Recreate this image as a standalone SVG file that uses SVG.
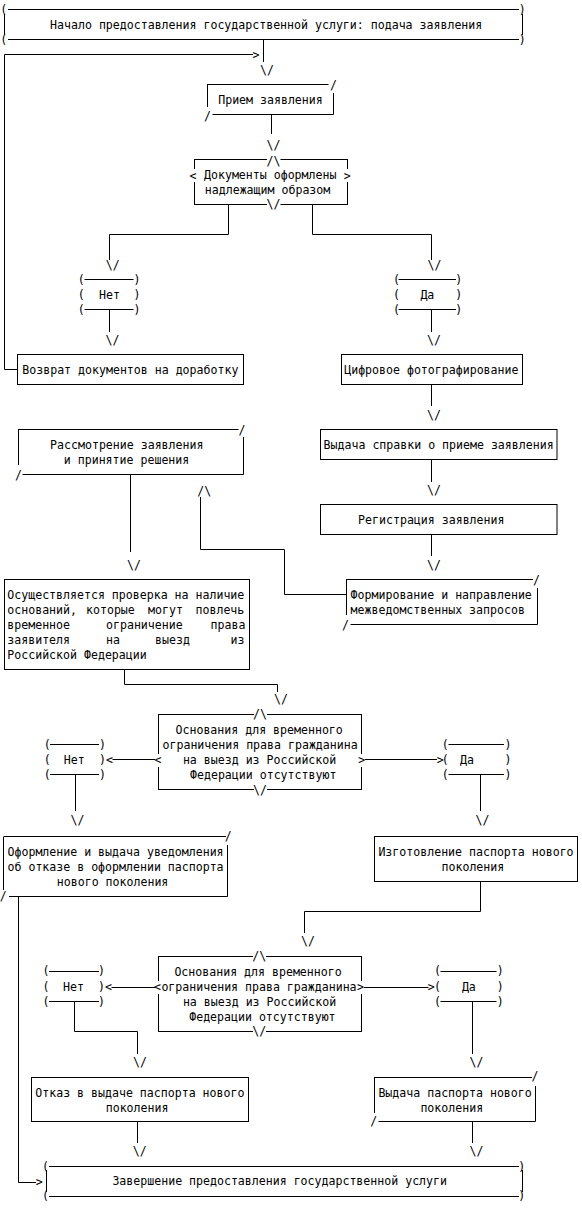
<svg xmlns="http://www.w3.org/2000/svg" width="582" height="1209" viewBox="0 0 582 1209">
<style>
text{font-family:"DejaVu Sans Mono","Liberation Mono",monospace;font-size:11.58px;fill:#000}
.m{text-anchor:middle}
.l{fill:none;stroke:#000;stroke-width:1}
</style>
<rect width="582" height="1209" fill="#fff"/>

<g id="n_start">
<path class="l" d="M8,9.5H519M8,39.5H519M4.5,14V35M522.5,14V35"/>
<text class="m" x="3.7" y="13.6">(</text><text class="m" x="522.2" y="13.6">)</text>
<text class="m" x="3.7" y="43.6">(</text><text class="m" x="522.2" y="43.6">)</text>
<text x="50.1" y="29">Начало предоставления государственной услуги: подача заявления</text>
</g>

<g id="n_priem">
<path class="l" d="M207,84.5H328.5M207.5,84.5V107M333.5,93V114.5M212.5,114.5H333.5"/>
<text class="m" x="333.6" y="89.2">/</text>
<text class="m" x="207.4" y="120">/</text>
<text x="218.2" y="104">Прием заявления</text>
</g>

<g id="n_dec1">
<path class="l" d="M194,159.5H267M280.5,159.5H348M194.5,159.5V169M194.5,182V204.5M347.5,159.5V169M347.5,182V204.5M194,204.5H267M280.5,204.5H348"/>
<text class="m" x="273.6" y="164.5">/\</text>
<text class="m" x="273.6" y="208.2">\/</text>
<text class="m" x="193.1" y="179.7">&lt;</text>
<text class="m" x="347.3" y="179.7">&gt;</text>
<text x="204" y="179.3">Документы оформлены</text>
<text x="204.8" y="194.3">надлежащим образом</text>
</g>

<g id="n_net1">
<path class="l" d="M84.5,279.5H133.5M84.5,309.5H133.5"/>
<text class="m" x="81.2" y="283.6">(</text><text class="m" x="81.2" y="298.6">(</text><text class="m" x="81.2" y="313.6">(</text>
<text class="m" x="136.9" y="283.6">)</text><text class="m" x="136.9" y="298.6">)</text><text class="m" x="136.9" y="313.6">)</text>
<text x="99.1" y="299">Нет</text>
</g>

<g id="n_da1">
<path class="l" d="M398.5,279.5H456M398.5,309.5H456"/>
<text class="m" x="396.6" y="283.6">(</text><text class="m" x="396.6" y="298.6">(</text><text class="m" x="396.6" y="313.6">(</text>
<text class="m" x="458.8" y="283.6">)</text><text class="m" x="458.8" y="298.6">)</text><text class="m" x="458.8" y="313.6">)</text>
<text x="420.4" y="299">Да</text>
</g>

<g id="n_vozvrat">
<rect class="l" x="17.5" y="354.5" width="226" height="30"/>
<text x="22.3" y="373.5">Возврат документов на доработку</text>
</g>

<g id="n_foto">
<rect class="l" x="341.5" y="354.5" width="181" height="30"/>
<text x="344.2" y="373.5">Цифровое фотографирование</text>
</g>

<g id="n_spravka">
<rect class="l" x="320.5" y="429.5" width="236.5" height="30"/>
<text x="323.6" y="448.5">Выдача справки о приеме заявления</text>
</g>

<g id="n_reg">
<rect class="l" x="320.5" y="504.5" width="236.5" height="30"/>
<text x="358.1" y="523.5">Регистрация заявления</text>
</g>

<g id="n_rassm">
<path class="l" d="M18,429.5H238.5M18.5,429.5V465M243.5,437V474.5M22.5,474.5H243.5"/>
<text class="m" x="242.1" y="433.7">/</text>
<text class="m" x="18.4" y="478.7">/</text>
<text x="50.1" y="448.5">Рассмотрение заявления</text>
<text x="63.8" y="463.5">и принятие решения</text>
</g>

<g id="n_form">
<path class="l" d="M346,579.5H533M346.5,579.5V615M537.5,588V624.5M350.5,624.5H537.5"/>
<text class="m" x="536.5" y="583.7">/</text>
<text class="m" x="345.6" y="628.7">/</text>
<text x="350.6" y="599">Формирование и направление</text>
<text x="350.6" y="614">межведомственных запросов</text>
</g>

<g id="n_osush">
<rect class="l" x="4.5" y="579.5" width="245" height="90"/>
<text x="7.3" y="599">Осуществляется проверка на наличие</text>
<text y="614"><tspan x="7.3">оснований,</tspan><tspan x="86">которые</tspan><tspan x="148">могут</tspan><tspan x="195.5">повлечь</tspan></text>
<text y="629"><tspan x="7.3">временное</tspan><tspan x="106">ограничение</tspan><tspan x="210.5">права</tspan></text>
<text y="644"><tspan x="7.3">заявителя</tspan><tspan x="106">на</tspan><tspan x="155">выезд</tspan><tspan x="230.5">из</tspan></text>
<text x="7.3" y="659">Российской Федерации</text>
</g>

<g id="n_dec2">
<path class="l" d="M158,714.5H254M267,714.5H362M158.5,714.5V754M158.5,767V789.5M361.5,714.5V754M361.5,767V789.5M158,789.5H254M267,789.5H362"/>
<text class="m" x="259.9" y="718.2">/\</text>
<text class="m" x="259.9" y="793.7">\/</text>
<text class="m" x="158" y="764.2">&lt;</text>
<text class="m" x="361.7" y="764.2">&gt;</text>
<text x="175.5" y="734.3">Основания для временного</text>
<text x="162.5" y="749.3">ограничения права гражданина</text>
<text x="182.9" y="764.3">на выезд из Российской</text>
<text x="190" y="779.3">Федерации отсутствуют</text>
</g>

<g id="n_net2">
<path class="l" d="M50,744.5H99M50,774.5H99"/>
<text class="m" x="47.3" y="748.6">(</text><text class="m" x="47.3" y="763.6">(</text><text class="m" x="47.3" y="778.6">(</text>
<text class="m" x="102.4" y="748.6">)</text><text class="m" x="102.4" y="763.6">)</text><text class="m" x="102.4" y="778.6">)</text>
<text x="63.8" y="764">Нет</text>
</g>

<g id="n_da2">
<path class="l" d="M448.5,744.5H504M448.5,774.5H504"/>
<text class="m" x="445.2" y="748.6">(</text><text class="m" x="445.2" y="763.6">(</text><text class="m" x="445.2" y="778.6">(</text>
<text class="m" x="508.1" y="748.6">)</text><text class="m" x="508.1" y="763.6">)</text><text class="m" x="508.1" y="778.6">)</text>
<text x="460" y="764">Да</text>
</g>

<g id="n_oform">
<path class="l" d="M4,836.5H226M3.5,836.5V890M227.5,845V896.5M9,896.5H227.5"/>
<text class="m" x="228.2" y="840.4">/</text>
<text class="m" x="3.3" y="900.2">/</text>
<text x="7.5" y="856">Оформление и выдача уведомления</text>
<text x="7.5" y="871">об отказе в оформлении паспорта</text>
<text x="56.8" y="886">нового поколения</text>
</g>

<g id="n_izgot">
<rect class="l" x="374.5" y="836.5" width="203" height="45"/>
<text x="378.4" y="856">Изготовление паспорта нового</text>
<text x="441.5" y="871">поколения</text>
</g>

<g id="n_dec3">
<path class="l" d="M158,956.5H253M266,956.5H362M158.5,956.5V981M158.5,994V1031.5M361.5,956.5V981M361.5,994V1031.5M158,1031.5H253M266,1031.5H362"/>
<text class="m" x="259.3" y="960.4">/\</text>
<text class="m" x="259.3" y="1035.4">\/</text>
<text class="m" x="157.5" y="991.2">&lt;</text>
<text class="m" x="360.6" y="991.2">&gt;</text>
<text x="174.4" y="976">Основания для временного</text>
<text x="161.4" y="991">ограничения права гражданина</text>
<text x="182.9" y="1006">на выезд из Российской</text>
<text x="189.2" y="1021">Федерации отсутствуют</text>
</g>

<g id="n_net3">
<path class="l" d="M49,971.5H99M49,1001.5H99"/>
<text class="m" x="46" y="975.3">(</text><text class="m" x="46" y="990.6">(</text><text class="m" x="46" y="1005.6">(</text>
<text class="m" x="101.6" y="975.3">)</text><text class="m" x="101.6" y="990.6">)</text><text class="m" x="101.6" y="1005.6">)</text>
<text x="63.1" y="991">Нет</text>
</g>

<g id="n_da3">
<path class="l" d="M440.5,971.5H496.5M440.5,1001.5H496.5"/>
<text class="m" x="437.4" y="975.3">(</text><text class="m" x="437.4" y="990.6">(</text><text class="m" x="437.4" y="1005.6">(</text>
<text class="m" x="500.3" y="975.3">)</text><text class="m" x="500.3" y="990.6">)</text><text class="m" x="500.3" y="1005.6">)</text>
<text x="461.9" y="991">Да</text>
</g>

<g id="n_otkaz">
<rect class="l" x="31.5" y="1077.5" width="217" height="44"/>
<text x="35.3" y="1096.5">Отказ в выдаче паспорта нового</text>
<text x="105.7" y="1111.5">поколения</text>
</g>

<g id="n_vydacha">
<path class="l" d="M374,1077.5H532M374.5,1077.5V1113M535.5,1086V1121.5M378.5,1121.5H535.5"/>
<text class="m" x="535.1" y="1080.4">/</text>
<text class="m" x="373.7" y="1125.4">/</text>
<text x="378.4" y="1096.5">Выдача паспорта нового</text>
<text x="420.4" y="1111.5">поколения</text>
</g>

<g id="n_end">
<path class="l" d="M49,1166.5H519M49,1196.5H519M46.5,1170V1192M522.5,1170V1192"/>
<text class="m" x="45.4" y="1171.3">(</text><text class="m" x="521.7" y="1171.3">)</text>
<text class="m" x="45.4" y="1200.3">(</text><text class="m" x="521.7" y="1200.3">)</text>
<text x="112.4" y="1185.3">Завершение предоставления государственной услуги</text>
</g>

<g id="connectors">
<path class="l" d="M263.5,40V62M4.5,54.5V369.5H17.5M4.5,54.5H253M271.5,114.5V134M228.5,204.5V234.5H109.5V260M312.5,204.5V234.5H431.5V260M109.5,309.5V332M431.5,309.5V332M431.5,384.5V406M431.5,459.5V482M431.5,534.5V556M130.5,474.5V552M200.5,497V549.5H284.5V594.5H346M124.5,669.5V684.5H277.5V692M112.5,759.5H155M365,759.5H437M75.5,774.5V811M480.5,774.5V811M18.5,896.5V1182.5H36M480.5,881.5V911.5H304.5V933M111.5,987.5H155M364,987.5H428.5M74.5,1001.5V1031.5H137.5V1054M472.5,1001.5V1054M137.5,1121.5V1143M472.5,1121.5V1143"/>
<text class="m" x="256" y="58.7">&gt;</text>
<text class="m" x="267.1" y="74.2">\/</text>
<text class="m" x="273.5" y="148.7">\/</text>
<text class="m" x="112.7" y="268.7">\/</text>
<text class="m" x="434.6" y="268.7">\/</text>
<text class="m" x="112.4" y="344.2">\/</text>
<text class="m" x="434.1" y="344.2">\/</text>
<text class="m" x="434.1" y="418.7">\/</text>
<text class="m" x="434.1" y="493.7">\/</text>
<text class="m" x="434.1" y="568.7">\/</text>
<text class="m" x="134.1" y="568.7">\/</text>
<text class="m" x="204.2" y="494.7">/\</text>
<text class="m" x="281" y="703.2">\/</text>
<text class="m" x="109.6" y="764.2">&lt;</text>
<text class="m" x="440.2" y="764.2">&gt;</text>
<text class="m" x="77.4" y="823.7">\/</text>
<text class="m" x="482.5" y="823.7">\/</text>
<text class="m" x="308" y="945.4">\/</text>
<text class="m" x="108.5" y="991.2">&lt;</text>
<text class="m" x="431.3" y="991.2">&gt;</text>
<text class="m" x="139.9" y="1066">\/</text>
<text class="m" x="476.4" y="1066">\/</text>
<text class="m" x="139.7" y="1155.4">\/</text>
<text class="m" x="476.4" y="1155.4">\/</text>
<text class="m" x="39.3" y="1186.2">&gt;</text>
</g>
</svg>
